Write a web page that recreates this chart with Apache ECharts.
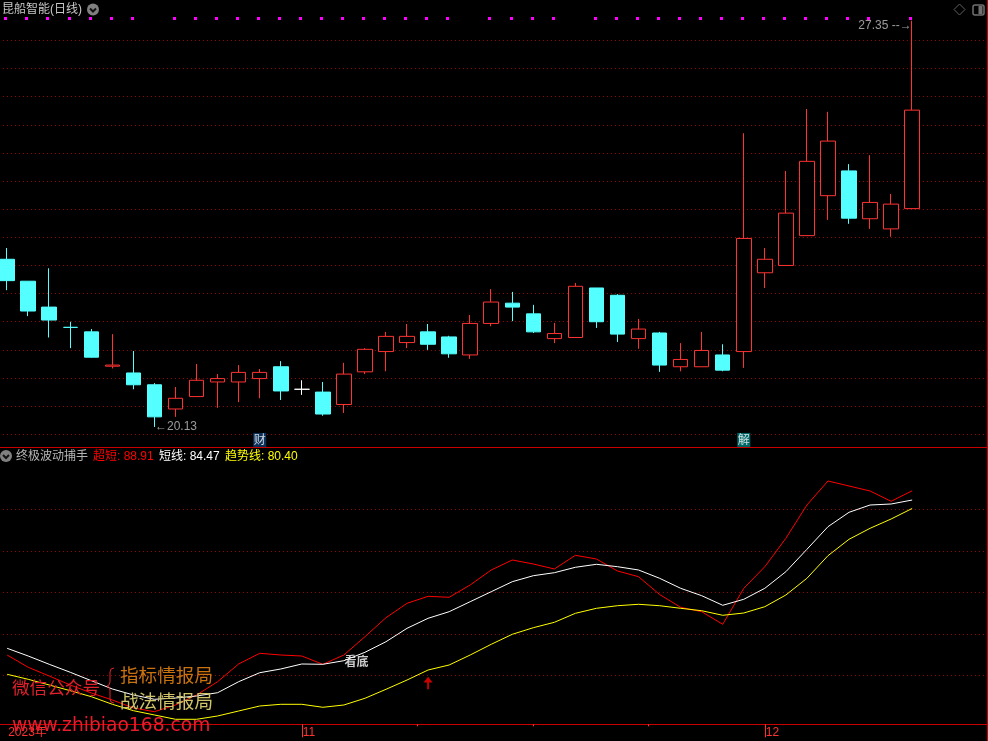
<!DOCTYPE html>
<html>
<head>
<meta charset="utf-8">
<style>html,body{margin:0;padding:0;background:#000}#c{width:988px;height:741px}</style>
<script src="https://cdn.jsdelivr.net/npm/echarts@6/dist/echarts.min.js"></script>
</head>
<body>
<div id="c"></div>
<script>
// ---- data ----
const dates = ['2023-10-12','2023-10-13','2023-10-16','2023-10-17','2023-10-18','2023-10-19','2023-10-20','2023-10-23','2023-10-24','2023-10-25','2023-10-26','2023-10-27','2023-10-30','2023-10-31','2023-11-01','2023-11-02','2023-11-03','2023-11-06','2023-11-07','2023-11-08','2023-11-09','2023-11-10','2023-11-13','2023-11-14','2023-11-15','2023-11-16','2023-11-17','2023-11-20','2023-11-21','2023-11-22','2023-11-23','2023-11-24','2023-11-27','2023-11-28','2023-11-29','2023-11-30','2023-12-01','2023-12-04','2023-12-05','2023-12-06','2023-12-07','2023-12-08','2023-12-11','2023-12-12'];
const opens  = [23.11,22.72,22.26,21.90,21.82,21.21,21.09,20.88,20.45,20.67,20.93,20.93,20.99,21.20,20.80,20.75,20.53,21.11,21.47,21.63,21.82,21.73,21.41,21.97,22.33,22.14,21.70,21.72,22.60,22.47,21.70,21.80,21.20,21.20,21.41,21.47,22.87,23.00,23.53,24.24,24.68,23.83,23.65,24.01];
const closes = [22.73,22.19,22.03,21.90,21.37,21.23,20.88,20.31,20.64,20.96,20.99,21.10,21.10,20.77,20.80,20.36,21.07,21.51,21.74,21.74,21.60,21.43,21.97,22.35,22.26,21.82,21.79,22.63,22.00,21.78,21.87,21.23,21.33,21.49,21.14,23.48,23.11,23.93,24.85,25.21,23.84,24.12,24.09,25.76];
const lows   = [22.56,22.10,21.72,21.53,21.36,21.17,20.80,20.13,20.31,20.67,20.47,20.57,20.64,20.61,20.70,20.33,20.38,21.07,21.12,21.53,21.50,21.36,21.34,21.92,22.01,21.80,21.62,21.72,21.89,21.64,21.52,21.11,21.12,21.20,21.12,21.18,22.60,23.00,23.53,23.81,23.74,23.65,23.51,24.01];
const highs  = [23.31,22.72,22.95,22.00,21.87,21.78,21.48,20.91,20.84,21.25,21.07,21.23,21.16,21.30,20.96,20.93,21.27,21.53,21.82,21.96,21.96,21.75,22.12,22.58,22.53,22.30,21.98,22.69,22.60,22.49,22.05,21.82,21.62,21.82,21.60,25.35,23.31,24.68,25.78,25.73,24.80,24.96,24.27,27.35];
const superShort = [9.78,3.86,-0.34,-4.67,-8.53,-11.90,-15.76,-17.54,-14.31,-9.49,-3.08,5.45,10.60,9.78,9.30,5.30,9.78,18.60,27.76,34.70,38.07,37.59,43.52,50.75,55.57,53.64,51.23,57.83,56.05,50.27,47.52,38.94,32.77,30.65,24.58,41.93,52.34,66.02,82.07,93.64,91.23,88.82,83.86,88.91];
const shortLine  = [13.01,9.30,5.30,1.45,-2.60,-6.60,-9.49,-11.57,-10.94,-9.98,-8.39,-3.08,1.25,3.04,5.45,5.30,7.04,11.08,16.19,22.65,27.47,30.65,35.47,40.29,45.11,48.00,49.45,52.05,53.49,52.34,50.75,46.75,41.93,38.36,33.74,36.63,41.93,49.93,60.72,71.62,78.55,82.07,82.55,84.47];
const trendLine  = [0.48,-1.93,-4.67,-7.42,-10.31,-13.98,-17.06,-19.13,-21.20,-21.20,-19.61,-17.20,-14.80,-13.98,-13.98,-15.42,-14.31,-11.08,-6.75,-2.27,2.55,4.96,9.78,14.94,19.76,22.94,25.54,29.88,32.29,33.54,34.22,33.54,32.29,31.13,28.92,30.02,33.06,38.70,46.75,57.64,65.54,70.84,75.33,80.40];
const signalFlags = [1,1,1,1,1,1,1,0,1,1,1,1,1,1,1,1,1,1,1,1,1,1,0,1,1,1,1,0,1,1,1,1,1,1,1,1,1,1,1,1,1,1,0,1];
const signalLevel = 27.388;
const monthTicks = {0:'2023年',14:'11',36:'12'};
const minorTicks = [19.49,24.98,30.47];
const eventFlags = [{idx:12,text:'财',bg:'#0c3c70'},{idx:35,text:'解',bg:'#008080'}];
const eventLevel = 19.9;
const lookIdx = 16, lookLevel = 6.89, lookText = '看底';
const arrowIdx = 20, arrowLevel = -3.66;
const lowIdx = 7, highIdx = 43;

const RED='#FF3232', CY='#54FFFF', GRID='#990000', FR='#c80000', CJK='"Noto Sans CJK SC"';
const band = 21.047, left0 = 7.15 - band/2, gridW = band*dates.length;

const candleData = dates.map((d,i)=>{
  const it = {value:[opens[i],closes[i],lows[i],highs[i]]};
  if (i===14) it.itemStyle = {color:'#fff',color0:'#fff',borderColor:'#fff',borderColor0:'#fff',borderColorDoji:'#fff'};
  if (i===3) it.itemStyle = {borderColor:CY,borderColor0:CY,borderColorDoji:CY};
  return it;
});
const last = a => a[a.length-1].toFixed(2);

function t(x,y,text,fill,size,fam){
  return {type:'text',silent:true,z:50,style:{x,y,text,fill,font:`${size||12}px ${fam||('"Liberation Sans",'+CJK)}`,textVerticalAlign:'middle'}};
}
const chev = (cx,cy)=>({type:'polyline',silent:true,z:51,shape:{points:[[cx-3,cy-1],[cx,cy+2],[cx+3,cy-1]]},style:{stroke:'#111',fill:null,lineWidth:2}});

const graphic = [
  {type:'line',silent:true,shape:{x1:0,y1:447.5,x2:988,y2:447.5},style:{stroke:FR,lineWidth:1}},
  {type:'line',silent:true,shape:{x1:0,y1:724.5,x2:988,y2:724.5},style:{stroke:FR,lineWidth:1}},
  {type:'line',silent:true,shape:{x1:987.5,y1:0,x2:987.5,y2:741},style:{stroke:FR,lineWidth:1}},
  t(2,9.5,'昆船智能(日线)','#c8c8c8'),
  {type:'circle',silent:true,z:50,shape:{cx:93,cy:9.5,r:6},style:{fill:'#808080'}}, chev(93,9.5),
  {type:'circle',silent:true,z:50,shape:{cx:6,cy:456,r:6},style:{fill:'#808080'}}, chev(6,456),
  t(16,456.5,'终极波动捕手','#b4b4b4'),
  t(93,456.5,'超短: '+last(superShort),'#FF0000'),
  t(159,456.5,'短线: '+last(shortLine),'#FFFFFF'),
  t(225,456.5,'趋势线: '+last(trendLine),'#FFFF00'),
  {type:'polygon',silent:true,shape:{points:[[959.5,4],[965,9.5],[959.5,15],[954,9.5]]},style:{fill:null,stroke:'#606060',lineWidth:1}},
  {type:'rect',silent:true,shape:{x:973,y:5,width:11,height:10,r:2},style:{fill:null,stroke:'#707070',lineWidth:1.5}},
  {type:'rect',silent:true,shape:{x:978.5,y:6,width:4,height:8},style:{fill:'#707070'}},
  t(12,687,'微信公众号','#e0202a',17.6,CJK),
  t(120,675,'指标情报局','#c8730f',18.6,CJK),
  t(120,701,'战法情报局','#cfc46a',18.6,CJK),
  t(12,726,'www.zhibiao168.com','#e81c2c',18.7,'"DejaVu Sans"'),
  {type:'polyline',silent:true,z:50,shape:{points:[[114,668],[111,669],[110,672],[110,682],[109,685],[107,686],[109,687],[110,690],[110,699],[111,702],[114,703]]},style:{fill:null,stroke:'#e0202a',lineWidth:1}}
];

const hiddenDot = {symbol:'circle',symbolSize:1,itemStyle:{color:'transparent'},clip:false,silent:true};
const option = {
  backgroundColor:'#000',
  animation:false,
  graphic:{elements:graphic},
  grid:[
    {left:3,width:981,top:12.2,height:422.1,outerBoundsMode:'none'},
    {left:left0,width:gridW,top:12.2,height:422.1,outerBoundsMode:'none'},
    {left:3,width:981,top:467.8,height:249,outerBoundsMode:'none'},
    {left:left0,width:gridW,top:467.8,height:249,outerBoundsMode:'none'}
  ],
  xAxis:[
    {gridIndex:0,type:'value',min:0,max:1,show:false},
    {gridIndex:1,type:'category',data:dates,show:false},
    {gridIndex:2,type:'value',min:0,max:1,show:false},
    {gridIndex:3,type:'category',data:dates,position:'bottom',offset:7.5,
      axisLine:{show:false,onZero:false},
      axisTick:{show:true,alignWithLabel:true,length:13,lineStyle:{color:'#ff3232'},interval:i=>i===14||i===36},
      axisLabel:{show:true,interval:i=>i in monthTicks,formatter:(v,i)=>monthTicks[i]||'',color:'#ff3232',fontSize:12,align:'left',margin:2,padding:[0,0,0,1],fontFamily:'"Liberation Sans",'+CJK}},
    {gridIndex:3,type:'value',min:-0.5,max:43.5,position:'bottom',offset:7.5,
      axisLine:{show:false,onZero:false},splitLine:{show:false},axisLabel:{show:false},
      axisTick:{show:true,length:2,customValues:minorTicks,lineStyle:{color:'#ff3232'}}}
  ],
  yAxis:[
    {gridIndex:0,type:'value',min:20,max:27.5,interval:0.5,axisLine:{show:false},axisTick:{show:false},axisLabel:{show:false},
      splitLine:{show:true,showMaxLine:false,lineStyle:{color:GRID,type:[1,3],width:1}}},
    {gridIndex:1,type:'value',min:20,max:27.5,interval:0.5,show:false,splitLine:{show:false}},
    {gridIndex:2,type:'value',min:-20,max:100,interval:20,axisLine:{show:false},axisTick:{show:false},axisLabel:{show:false},
      splitLine:{show:true,showMinLine:false,showMaxLine:false,lineStyle:{color:GRID,type:[1,3],width:1}}},
    {gridIndex:3,type:'value',min:-20,max:100,interval:20,show:false,splitLine:{show:false}}
  ],
  series:[
    {type:'candlestick',name:'K',xAxisIndex:1,yAxisIndex:1,data:candleData,barWidth:15,clip:false,
      itemStyle:{color:'#000',color0:CY,borderColor:RED,borderColor0:CY,borderWidth:1}},
    {type:'custom',name:'signal',xAxisIndex:1,yAxisIndex:1,clip:false,silent:true,
      data:signalFlags.map((f,i)=>f?[i,signalLevel]:null).filter(Boolean),
      encode:{x:0,y:1},
      renderItem:(params,api)=>{
        const p=api.coord([api.value(0),api.value(1)]);
        return {type:'rect',shape:{x:Math.floor(p[0]-0.25)-2,y:Math.round(p[1]-1.5),width:3,height:3},style:{fill:'#FF00FF'}};
      }},
    Object.assign({type:'scatter',name:'extremes',xAxisIndex:1,yAxisIndex:1,
      data:[
        {value:[lowIdx,lows[lowIdx]],label:{show:true,position:'right',distance:0,formatter:'←'+lows[lowIdx].toFixed(2)}},
        {value:[highIdx,highs[highIdx]],label:{show:true,position:'left',distance:0,formatter:highs[highIdx].toFixed(2)+' --→',offset:[0,5]}}
      ],
      label:{color:'#c0c0c0',fontSize:12,fontFamily:'"Liberation Sans"'}},hiddenDot),
    Object.assign({type:'scatter',name:'events',xAxisIndex:1,yAxisIndex:1,
      data:eventFlags.map(e=>({value:[e.idx,eventLevel],label:{show:true,position:'inside',formatter:e.text,backgroundColor:e.bg,color:'#fff',fontSize:12,fontFamily:CJK,lineHeight:14,padding:[0,0.5,0,0.5]}}))},hiddenDot),
    {type:'line',name:'超短',xAxisIndex:3,yAxisIndex:3,data:superShort,showSymbol:false,symbol:'none',clip:false,silent:true,lineStyle:{color:'#FF0000',width:1}},
    {type:'line',name:'短线',xAxisIndex:3,yAxisIndex:3,data:shortLine,showSymbol:false,symbol:'none',clip:false,silent:true,lineStyle:{color:'#FFFFFF',width:1}},
    {type:'line',name:'趋势线',xAxisIndex:3,yAxisIndex:3,data:trendLine,showSymbol:false,symbol:'none',clip:false,silent:true,lineStyle:{color:'#FFFF00',width:1}},
    Object.assign({type:'scatter',name:'look',xAxisIndex:3,yAxisIndex:3,
      data:[{value:[lookIdx,lookLevel],label:{show:true,position:'right',distance:0,formatter:lookText,color:'#fff',fontSize:12,fontFamily:CJK,fontWeight:'bold'}}]},hiddenDot),
    {type:'scatter',name:'arrow',xAxisIndex:3,yAxisIndex:3,clip:false,silent:true,
      symbol:'path://M5 0 L10 6 L6 6 L6 13 L4 13 L4 6 L0 6 Z',symbolSize:[9,12.5],symbolKeepAspect:false,itemStyle:{color:'#FF0000'},
      data:[[arrowIdx,arrowLevel]]}
  ]
};
const chart = echarts.init(document.getElementById('c'),null,{renderer:'canvas',width:988,height:741});
chart.setOption(option);
</script>
</body>
</html>
